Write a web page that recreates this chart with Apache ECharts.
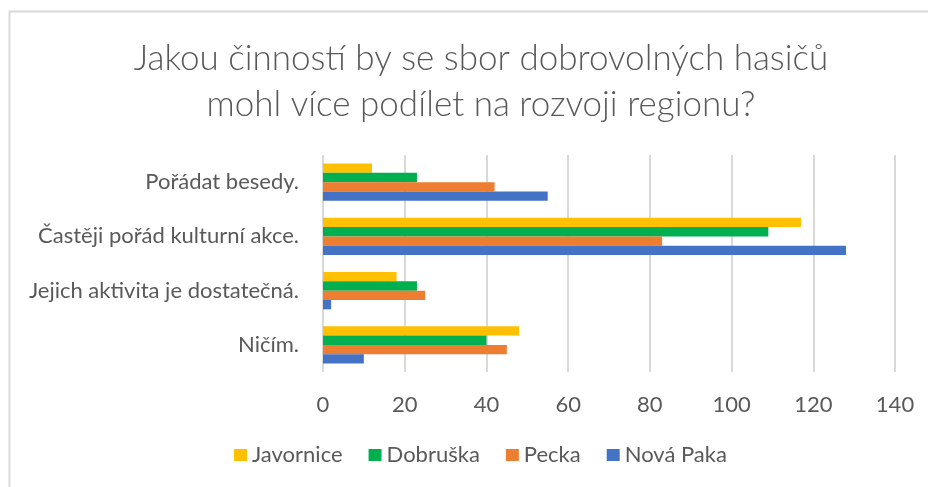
<!DOCTYPE html>
<html>
<head>
<meta charset="utf-8">
<script src="https://cdn.jsdelivr.net/npm/echarts@6/dist/echarts.min.js"></script>
<style>
    html, body { margin: 0; padding: 0; background: #fff; }
    #hasiciChart { width: 928px; height: 487px; }
</style>
</head>
<body>
<div id="hasiciChart"></div>
<script>
// kategorie (odspodu nahoru, jako v Excelu)
const categories = ['Ničím.', 'Jejich aktivita je dostatečná.', 'Častěji pořád kulturní akce.', 'Pořádat besedy.'];

const seriesNames = ['Javornice', 'Dobruška', 'Pecka', 'Nová Paka'];
const seriesColors = ['#FFC000', '#00B050', '#ED7D31', '#4472C4'];

const javorniceVals = [48, 18, 117, 12];
const dobruskaVals = [40, 23, 109, 23];
const peckaVals = [45, 25, 83, 42];
const novaPakaVals = [10, 2, 128, 55];

const xTicks = [0, 20, 40, 60, 80, 100, 120, 140];

const textColor = '#595959';
const fontName = 'Lato';

const hasiciChart = () => {
    var chartDom = document.getElementById('hasiciChart');
    var myChart = echarts.init(chartDom);

    const allVals = [javorniceVals, dobruskaVals, peckaVals, novaPakaVals];

    // první řada (Javornice) se kreslí nahoře
    const series = seriesNames.map((name, idx) => ({
        name: name,
        type: 'bar',
        data: allVals[idx],
        barGap: '0%',
        barCategoryGap: '31%',
        itemStyle: { color: seriesColors[idx] },
    }));

    myChart.setOption({
        animation: false,
        textStyle: { fontFamily: fontName },
        graphic: [{
            type: 'rect',
            shape: { x: 9.5, y: 11.5, width: 1000, height: 1000 },
            style: { fill: 'none', stroke: '#D9D9D9', lineWidth: 2 },
            silent: true
        }],
        title: {
            text: 'Jakou činností by se sbor dobrovolných hasičů\nmohl více podílet na rozvoji regionu?',
            left: 476,
            top: 31,
            textAlign: 'center',
            textStyle: {
                fontFamily: fontName,
                fontWeight: 300,
                fontSize: 35,
                lineHeight: 46,
                color: textColor
            }
        },
        legend: {
            data: seriesNames,
            bottom: 16,
            left: 229,
            itemWidth: 13,
            itemHeight: 12,
            itemGap: 26,
            icon: 'rect',
            textStyle: { fontSize: 22, color: textColor, fontFamily: fontName }
        },
        grid: {
            left: 323, right: 33, top: 155, bottom: 115,
            containLabel: false
        },
        xAxis: {
            type: 'value',
            min: xTicks[0],
            max: xTicks[xTicks.length - 1],
            interval: 20,
            axisLine: { show: false },
            axisTick: { show: false },
            axisLabel: { color: textColor, fontSize: 22, margin: 22 },
            splitLine: { lineStyle: { color: '#D9D9D9', width: 2 } }
        },
        yAxis: {
            type: 'category',
            data: categories,
            axisLine: { show: false },
            axisTick: { show: false },
            axisLabel: { color: textColor, fontSize: 22, margin: 24 }
        },
        series: series
    });

    new ResizeObserver(() => myChart.resize()).observe(chartDom);
};

hasiciChart();
</script>
</body>
</html>
